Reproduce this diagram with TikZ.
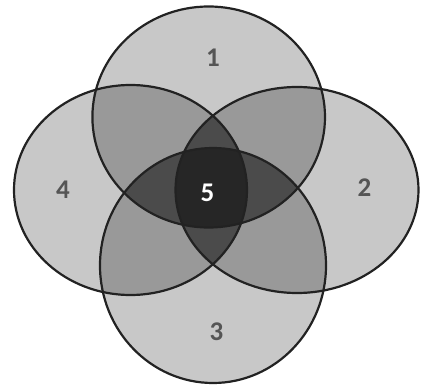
\documentclass[tikz,border=0pt]{standalone}
\usepackage{fontspec}
\setmainfont{Carlito}
\definecolor{cone}{HTML}{C8C8C8}
\definecolor{ctwo}{HTML}{999999}
\definecolor{cthree}{HTML}{4B4B4B}
\definecolor{cfour}{HTML}{262626}
\definecolor{cline}{HTML}{222222}
\definecolor{ctext}{HTML}{555555}
\begin{document}
\begin{tikzpicture}[x=1pt,y=-1pt,
  outline/.style={draw=cline,line width=2.2pt},
  lbl/.style={font=\fontsize{27}{27}\selectfont\bfseries,text=ctext,inner sep=0pt},
  lblw/.style={lbl,text=white}]
\useasboundingbox (0,0) rectangle (421,385);
\def\EA{(208.7,117) ellipse [x radius=116.3, y radius=110.5]}
\def\EB{(297,190) ellipse [x radius=121.5, y radius=103]}
\def\EC{(213,265.5) ellipse [x radius=113, y radius=117.5]}
\def\ED{(130.5,190) ellipse [x radius=116.5, y radius=105]}
% singles
\foreach \e in {\EA,\EB,\EC,\ED}{\fill[cone] \e;}
% pairs
\begin{scope}\clip \EA; \fill[ctwo] \EB; \fill[ctwo] \EC; \fill[ctwo] \ED;\end{scope}
\begin{scope}\clip \EB; \fill[ctwo] \EC; \fill[ctwo] \ED;\end{scope}
\begin{scope}\clip \EC; \fill[ctwo] \ED;\end{scope}
% triples
\begin{scope}\clip \EA; \clip \EB; \fill[cthree] \EC; \fill[cthree] \ED;\end{scope}
\begin{scope}\clip \EA; \clip \EC; \fill[cthree] \ED;\end{scope}
\begin{scope}\clip \EB; \clip \EC; \fill[cthree] \ED;\end{scope}
% quadruple
\begin{scope}\clip \EA; \clip \EB; \clip \EC; \fill[cfour] \ED;\end{scope}
% outlines
\foreach \e in {\EA,\EB,\EC,\ED}{\draw[outline] \e;}
% labels
\node[lbl] (l1) at (213,58) {1};
\node[lbl] (l2) at (364.5,187.5) {2};
\node[lbl] (l3) at (216.5,332) {3};
\node[lbl] (l4) at (63,190) {4};
\node[lblw] (l5) at (207.5,193) {5};
\end{tikzpicture}
\end{document}
